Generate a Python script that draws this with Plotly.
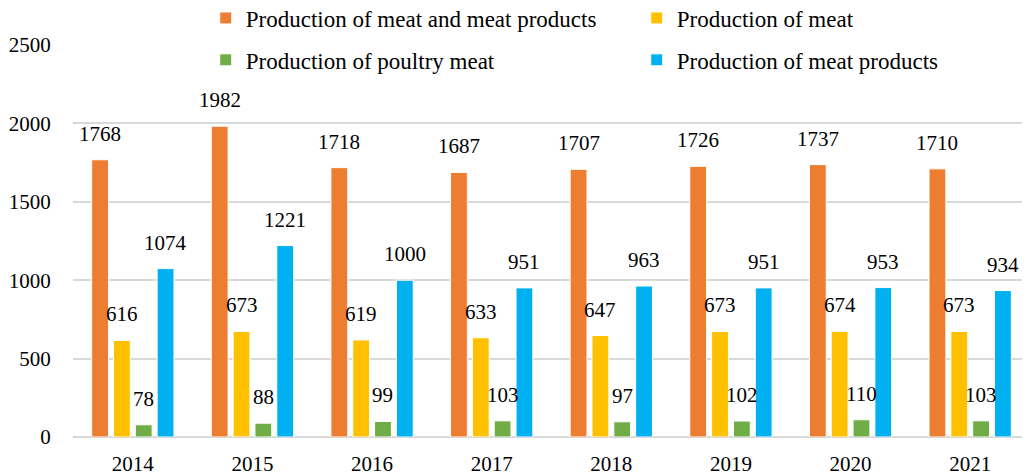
import plotly.graph_objects as go

years = ["2014", "2015", "2016", "2017", "2018", "2019", "2020", "2021"]
meat_and_products = [1768, 1982, 1718, 1687, 1707, 1726, 1737, 1710]
meat = [616, 673, 619, 633, 647, 673, 674, 673]
poultry = [78, 88, 99, 103, 97, 102, 110, 103]
meat_products = [1074, 1221, 1000, 951, 963, 951, 953, 934]

series = [
    ("Production of meat and meat products", meat_and_products, "#ED7D31", "legend"),
    ("Production of meat", meat, "#FFC000", "legend"),
    ("Production of poultry meat", poultry, "#70AD47", "legend2"),
    ("Production of meat products", meat_products, "#00B0F0", "legend2"),
]

FONT = "Liberation Serif"
fig = go.Figure()
slot = 21.8  # px per bar slot
for i, (name, vals, color, leg) in enumerate(series):
    fig.add_trace(go.Bar(
        x=years, y=vals, name=name, legend=leg,
        marker=dict(color=color, line=dict(color="white", width=1)),
    ))
    # value labels; x given as category index (numeric strings get read as indices)
    for j, v in enumerate(vals):
        fig.add_annotation(x=j, y=v, text=str(v), showarrow=False,
                           xshift=(i - 1.5) * slot, yshift=12, yanchor="bottom",
                           font=dict(family=FONT, size=21, color="black"))

fig.update_layout(
    width=1030, height=476,
    margin=dict(l=65, r=8, t=37, b=47, autoexpand=False),
    paper_bgcolor="white", plot_bgcolor="white",
    font=dict(family=FONT, size=21, color="black"),
    barmode="group", bargap=0.27, bargroupgap=0.23,
    showlegend=True,
    legend=dict(orientation="h", xref="container", yref="container",
                x=0.192, y=0.979, xanchor="left", yanchor="middle",
                entrywidth=386, font=dict(size=23), bgcolor="rgba(0,0,0,0)"),
    legend2=dict(orientation="h", xref="container", yref="container",
                 x=0.192, y=0.891, xanchor="left", yanchor="middle",
                 entrywidth=386, font=dict(size=23), bgcolor="rgba(0,0,0,0)"),
)
fig.update_xaxes(type="category", range=[-0.5, len(years) - 0.5], showgrid=False,
                 showline=False, ticks="outside", ticklen=8,
                 tickcolor="rgba(0,0,0,0)", tickfont=dict(size=21))
fig.update_yaxes(range=[0, 2500], dtick=500, showgrid=True, gridcolor="#D9D9D9",
                 gridwidth=1.5, zeroline=True, zerolinecolor="#D9D9D9", zerolinewidth=1.5,
                 showline=False, ticks="outside", ticklen=17, tickcolor="rgba(0,0,0,0)",
                 tickfont=dict(size=21))

fig.write_html("out.html")
